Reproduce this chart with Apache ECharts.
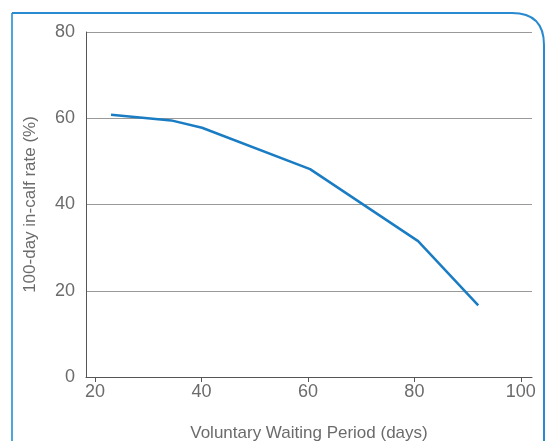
<!DOCTYPE html>
<html>
<head>
<meta charset="utf-8">
<script src="https://cdn.jsdelivr.net/npm/echarts@6/dist/echarts.min.js"></script>
<style>html,body{margin:0;padding:0;background:#fff;}#c{width:545px;height:441px;}</style>
</head>
<body>
<div id="c"></div>
<script>
var vwpDays = [23, 34.3, 40.1, 60.4, 80.7, 92.0];
var inCalfRate = [60.8, 59.5, 57.8, 48.2, 31.5, 16.6];
var xTickValues = [20, 40, 60, 80, 100];
var xTitle = 'Voluntary Waiting Period (days)';
var yTitle = '100-day in-calf rate (%)';

var chart = echarts.init(document.getElementById('c'), null, {renderer: 'canvas'});
var fontFam = '"Liberation Sans", Arial, sans-serif';
var frameStyle = {fill: null, stroke: '#2a8ad0', lineWidth: 2};
chart.setOption({
  animation: false,
  backgroundColor: '#fff',
  grid: {left: 86, right: 13, top: 32, bottom: 64, containLabel: false, outerBoundsMode: 'none'},
  graphic: [
    {type: 'line', shape: {x1: 12, y1: 441, x2: 12, y2: 13}, style: {stroke: '#4ea6dc', lineWidth: 2}},
    {type: 'line', shape: {x1: 12, y1: 13, x2: 512, y2: 13}, style: frameStyle},
    {type: 'bezierCurve', shape: {x1: 512, y1: 13, cpx1: 544, cpy1: 13, x2: 544, y2: 45}, style: frameStyle},
    {type: 'line', shape: {x1: 544, y1: 45, x2: 544, y2: 441}, style: frameStyle}
  ],
  xAxis: {
    type: 'value', min: 18.3, max: 102.1,
    name: xTitle, nameLocation: 'middle', nameGap: 48,
    nameTextStyle: {color: '#6b6b6b', fontSize: 17, fontFamily: fontFam},
    axisLine: {show: true, lineStyle: {color: '#555', width: 1}},
    axisTick: {show: true, customValues: xTickValues, length: 5, lineStyle: {color: '#555'}},
    axisLabel: {customValues: xTickValues, color: '#6b6b6b', fontSize: 18, fontFamily: fontFam, margin: 6},
    splitLine: {show: false}
  },
  yAxis: {
    type: 'value', min: 0, max: 80, interval: 20,
    name: yTitle, nameLocation: 'middle', nameGap: 47, nameRotate: 90,
    nameTextStyle: {color: '#6b6b6b', fontSize: 17, fontFamily: fontFam},
    axisLine: {show: true, lineStyle: {color: '#555', width: 1}},
    axisTick: {show: false},
    axisLabel: {color: '#6b6b6b', fontSize: 18, fontFamily: fontFam, margin: 11},
    splitLine: {show: true, lineStyle: {color: '#999', width: 1}}
  },
  series: [{
    type: 'line',
    data: vwpDays.map(function (d, i) { return [d, inCalfRate[i]]; }),
    symbol: 'none',
    lineStyle: {color: '#1a7dc4', width: 2.5},
    z: 5
  }]
});
</script>
</body>
</html>
